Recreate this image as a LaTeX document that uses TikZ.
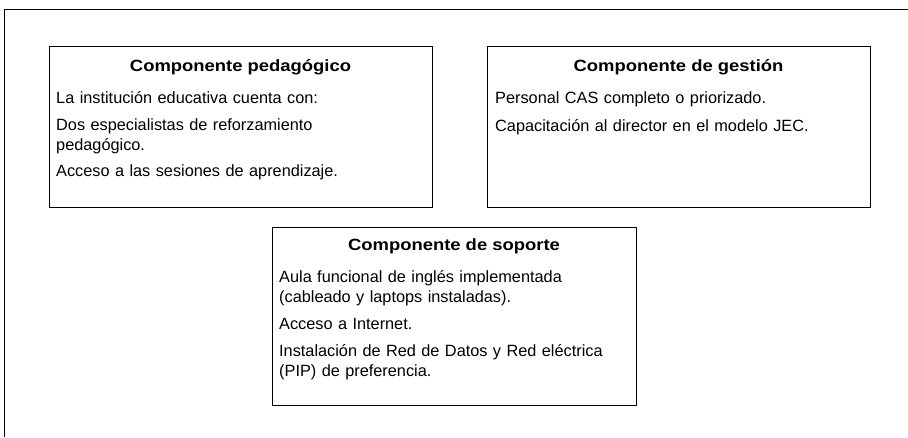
\documentclass[tikz,border=0pt]{standalone}
\usepackage{fontspec}
\setmainfont{Liberation Sans}
\newfontfamily\ttlfamily{Liberation Sans Bold}[FakeStretch=1.13]
\newcommand\boxfont{\fontsize{16.3pt}{20pt}\selectfont}
\begin{document}
\begin{tikzpicture}[x=1pt,y=-1pt,
  box/.style={draw=black, line width=1pt, inner sep=0pt, anchor=north west},
  ttl/.style={font=\boxfont\ttlfamily, anchor=base, inner sep=0pt},
  body/.style={font=\boxfont, anchor=north west, inner sep=0pt, text width=370pt, align=left}]
\useasboundingbox (0,0) rectangle (908,437);
% outer frame
\coordinate (fbl) at (4,437);
\coordinate (ftl) at (4,9);
\coordinate (ftr) at (908,9);
\draw[line width=1pt] (fbl) -- (ftl) -- (ftr);
% boxes
\node[box, minimum width=383pt, minimum height=161pt] (b1) at (49,46) {};
\node[box, minimum width=383pt, minimum height=161pt] (b2) at (487,46) {};
\node[box, minimum width=364pt, minimum height=178pt] (b3) at (272,227) {};
% titles
\node[ttl] (t1) at (240.5,71) {Componente pedagógico};
\node[ttl] (t2) at (678.5,71) {Componente de gestión};
\node[ttl] (t3) at (454,250) {Componente de soporte};
% bodies
\node[body] (c1) at (56,89) {\strut La institución educativa cuenta con:\\[7pt]
Dos especialistas de reforzamiento\\
pedagógico.\\[6pt]
Acceso a las sesiones de aprendizaje.};
\node[body] (c2) at (495,89) {\strut Personal CAS completo o priorizado.\\[8pt]
Capacitación al director en el modelo JEC.};
\node[body] (c3) at (279,268) {\strut Aula funcional de inglés implementada\\
(cableado y laptops instaladas).\\[7pt]
Acceso a Internet.\\[7pt]
Instalación de Red de Datos y Red eléctrica\\
(PIP) de preferencia.};
\end{tikzpicture}
\end{document}
